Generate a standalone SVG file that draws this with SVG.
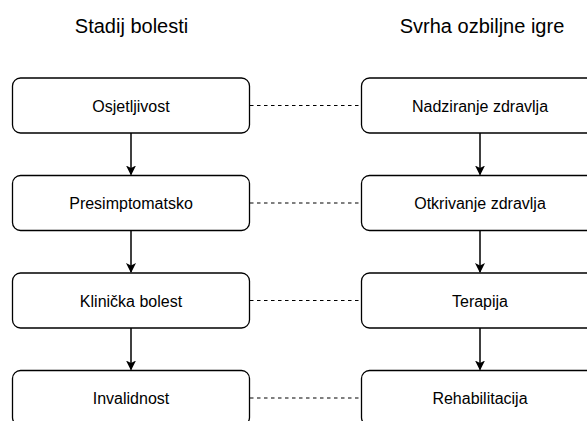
<svg xmlns="http://www.w3.org/2000/svg" width="587" height="421" viewBox="0 0 587 421">
<style>
.box{fill:#fff;stroke:#000;stroke-width:1.3}
.lbl{font-family:"Liberation Sans",Arial,sans-serif;font-size:16px;fill:#000;text-anchor:middle}
.hdr{font-family:"Liberation Sans",Arial,sans-serif;font-size:20px;fill:#000;text-anchor:middle}
.arr{stroke:#000;stroke-width:1.5;fill:none;marker-end:url(#ah)}
.dash{stroke:#000;stroke-width:1.2;stroke-dasharray:3.5 3.5;fill:none}
</style>
<defs>
<marker id="ah" markerWidth="10" markerHeight="12" refX="9" refY="5" orient="auto" markerUnits="userSpaceOnUse">
<path d="M0,0 L10,5 L0,10 L2.5,5 Z" fill="#000"/>
</marker>
</defs>
<rect width="587" height="421" fill="#fff"/>
<text class="hdr" x="131.5" y="32.5">Stadij bolesti</text>
<text class="hdr" x="482" y="32.5">Svrha ozbiljne igre</text>
<g id="connectors">
<path class="arr" d="M131,133 V174.5"/>
<path class="arr" d="M131,230.5 V272"/>
<path class="arr" d="M131,328 V369.5"/>
<path class="arr" d="M480,133 V174.5"/>
<path class="arr" d="M480,230.5 V272"/>
<path class="arr" d="M480,328 V369.5"/>
<path class="dash" d="M250,105.5 H361"/>
<path class="dash" d="M250,203 H361"/>
<path class="dash" d="M250,300.5 H361"/>
<path class="dash" d="M250,398 H361"/>
</g>
<g id="n1"><rect class="box" x="12.5" y="78" width="237" height="55" rx="8"/><text class="lbl" x="131" y="111.5">Osjetljivost</text></g>
<g id="n2"><rect class="box" x="12.5" y="175.5" width="237" height="55" rx="8"/><text class="lbl" x="131" y="209">Presimptomatsko</text></g>
<g id="n3"><rect class="box" x="12.5" y="273" width="237" height="55" rx="8"/><text class="lbl" x="131" y="306.5">Klinička bolest</text></g>
<g id="n4"><rect class="box" x="12.5" y="370.5" width="237" height="55" rx="8"/><text class="lbl" x="131" y="404">Invalidnost</text></g>
<g id="m1"><rect class="box" x="361.5" y="78" width="237" height="55" rx="8"/><text class="lbl" x="480" y="111.5">Nadziranje zdravlja</text></g>
<g id="m2"><rect class="box" x="361.5" y="175.5" width="237" height="55" rx="8"/><text class="lbl" x="480" y="209">Otkrivanje zdravlja</text></g>
<g id="m3"><rect class="box" x="361.5" y="273" width="237" height="55" rx="8"/><text class="lbl" x="480" y="306.5">Terapija</text></g>
<g id="m4"><rect class="box" x="361.5" y="370.5" width="237" height="55" rx="8"/><text class="lbl" x="480" y="404">Rehabilitacija</text></g>
</svg>
